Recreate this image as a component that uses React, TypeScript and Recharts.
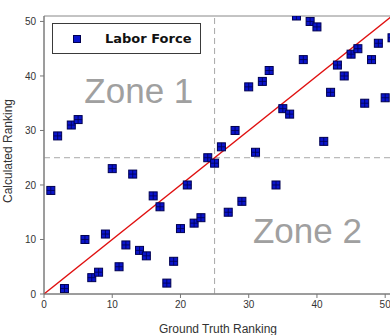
import React from 'react';
import {
  ScatterChart,
  Scatter,
  XAxis,
  YAxis,
  ReferenceLine,
  ReferenceArea,
  ReferenceDot,
  Legend,
} from 'recharts';

// ground truth rank vs calculated rank, one entry per state
const groundTruth = [
  1, 2, 3, 4, 5, 6, 7, 8, 9, 10, 11, 12, 13, 14, 15, 16, 17, 18, 19, 20, 21, 22, 23, 24, 25, 26,
  27, 28, 29, 30, 31, 32, 33, 34, 35, 36, 37, 38, 39, 40, 41, 42, 43, 44, 45, 46, 47, 48, 49, 50, 51,
];
const calculated = [
  19, 29, 1, 31, 32, 10, 3, 4, 11, 23, 5, 9, 22, 8, 7, 18, 16, 2, 6, 12, 20, 13, 14, 25, 24, 27,
  15, 30, 17, 38, 26, 39, 41, 20, 34, 33, 51, 43, 50, 49, 28, 37, 42, 40, 44, 45, 35, 43, 46, 36, 47,
];
const axisTicks = [0, 10, 20, 30, 40, 50];
const seriesName = 'Labor Force';

const points = groundTruth.map((x, i) => ({ x, y: calculated[i] }));

const FONT = '"Liberation Sans", Arial, sans-serif';
const BLUE = '#0a14cc';
const NAVY = '#000050';

const SquareMarker = (props: any) => {
  const { cx, cy } = props;
  if (cx == null || cy == null) return null;
  const s = 4;
  return (
    <g>
      <rect x={cx - s} y={cy - s} width={s * 2} height={s * 2} fill={BLUE} stroke={NAVY} strokeWidth={1} />
      <line x1={cx} y1={cy - s} x2={cx} y2={cy + s} stroke={NAVY} strokeWidth={0.8} />
      <line x1={cx - s} y1={cy} x2={cx + s} y2={cy} stroke={NAVY} strokeWidth={0.8} />
    </g>
  );
};

const LegendBox = () => (
  <div
    style={{
      width: 147,
      height: 29,
      border: '1px solid #3a3a3a',
      background: '#fff',
      display: 'flex',
      alignItems: 'center',
      boxSizing: 'content-box',
    }}
  >
    <svg width={8} height={8} style={{ marginLeft: 20 }}>
      <rect x={0.5} y={0.5} width={7} height={7} fill={BLUE} stroke={NAVY} strokeWidth={1} />
    </svg>
    <span
      style={{
        marginLeft: 24,
        fontFamily: '"DejaVu Sans", Verdana, sans-serif',
        fontWeight: 'bold',
        fontSize: 13,
        color: '#111',
      }}
    >
      {seriesName}
    </span>
  </div>
);

const YTitle = (props: any) => {
  const { viewBox } = props;
  const cx = 8;
  const cy = viewBox.y + viewBox.height / 2 - 4;
  return (
    <text
      x={cx}
      y={cy}
      transform={`rotate(-90, ${cx}, ${cy})`}
      textAnchor="middle"
      dominantBaseline="central"
      fontSize={12}
      fill="#333"
      fontFamily={FONT}
    >
      Calculated Ranking
    </text>
  );
};

export default function App() {
  const tickStyle = { fontSize: 10, fill: '#333', fontFamily: FONT };
  return (
    <div
      style={{
        position: 'absolute',
        left: 0,
        top: 0,
        width: 390,
        height: 335,
        overflow: 'hidden',
        background: '#fff',
      }}
    >
      <ScatterChart width={400} height={335} margin={{ top: 16, right: 8, bottom: 0, left: 0 }}>
        <XAxis
          type="number"
          dataKey="x"
          domain={[0, 51]}
          ticks={axisTicks}
          allowDataOverflow
          height={41}
          tickSize={4}
          tickMargin={3}
          stroke="#777"
          tick={tickStyle}
          label={{
            value: 'Ground Truth Ranking',
            position: 'insideBottom',
            offset: 2,
            style: { fontSize: 12, fill: '#333', fontFamily: FONT },
          }}
        />
        <YAxis
          type="number"
          dataKey="y"
          domain={[0, 51]}
          ticks={axisTicks}
          allowDataOverflow
          width={44}
          tickSize={4}
          tickMargin={4}
          stroke="#777"
          tick={tickStyle}
          label={<YTitle />}
        />
        <ReferenceArea x1={0} x2={51} y1={0} y2={51} fill="none" stroke="#888" strokeWidth={1} />
        <ReferenceLine x={25} stroke="#a8a8a8" strokeDasharray="6 4" />
        <ReferenceLine y={25} stroke="#a8a8a8" strokeDasharray="6 4" />
        <ReferenceDot
          x={13.9}
          y={37.4}
          r={0}
          fill="none"
          stroke="none"
          label={{ value: 'Zone 1', position: 'center', fill: '#a0a0a0', fontSize: 35, fontFamily: FONT }}
        />
        <ReferenceDot
          x={38.6}
          y={11.7}
          r={0}
          fill="none"
          stroke="none"
          label={{ value: 'Zone 2', position: 'center', fill: '#a0a0a0', fontSize: 35, fontFamily: FONT }}
        />
        <ReferenceLine
          segment={[
            { x: 0, y: 0 },
            { x: 51, y: 51 },
          ]}
          stroke="#e01010"
          strokeWidth={1.5}
        />
        <Legend
          layout="horizontal"
          verticalAlign="middle"
          align="center"
          content={<LegendBox />}
          wrapperStyle={{ position: 'absolute', left: 52, top: 23, width: 'auto', height: 'auto' }}
        />
        <Scatter name={seriesName} data={points} shape={<SquareMarker />} isAnimationActive={false} />
      </ScatterChart>
    </div>
  );
}
